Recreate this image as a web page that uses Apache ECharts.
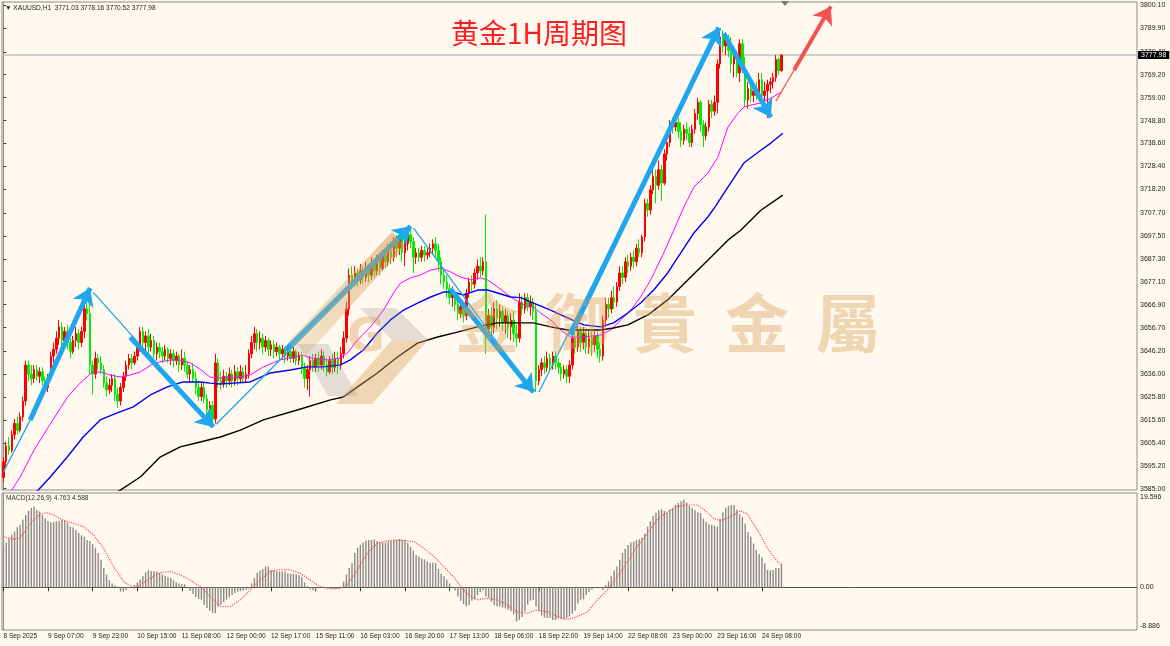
<!DOCTYPE html>
<html>
<head>
<meta charset="utf-8">
<script src="https://cdn.jsdelivr.net/npm/echarts@6/dist/echarts.min.js"></script>
<style>
  html, body { margin: 0; padding: 0; background: #fff8ee; }
  #chart { width: 1170px; height: 646px; }
</style>
</head>
<body>
<div id="chart"></div>
<script>
// ---- data ----
const timeLabels = ['8 Sep 2025', '9 Sep 07:00', '9 Sep 23:00', '10 Sep 15:00', '11 Sep 08:00',
  '12 Sep 00:00', '12 Sep 17:00', '15 Sep 11:00', '16 Sep 03:00', '16 Sep 20:00', '17 Sep 13:00',
  '18 Sep 06:00', '18 Sep 22:00', '19 Sep 14:00', '22 Sep 08:00', '23 Sep 00:00', '23 Sep 16:00',
  '24 Sep 08:00'];

const priceTicks = [3800.10, 3789.90, 3779.40, 3769.20, 3759.00, 3748.80, 3738.60, 3728.40, 3718.20,
  3707.70, 3697.50, 3687.30, 3677.10, 3666.90, 3656.70, 3646.20, 3636.00, 3625.80, 3615.60,
  3605.40, 3595.20, 3585.00];

const macdTicks = [19.596, 0, -8.886];
const macdTickText = ['19.596', '0.00', '-8.886'];

const lastBar = { open: 3771.03, high: 3778.16, low: 3770.52, close: 3777.98 };

// [open, close, low, high] per hourly bar
const candles = [
  [3590,3597,3588,3599],[3597,3604,3595,3606],[3604,3602,3600,3608],[3602,3609,3601,3611],
  [3609,3614,3607,3616],[3614,3611,3609,3617],[3611,3617,3610,3619],[3617,3624,3615,3626],
  [3624,3640,3622,3642],[3640,3636,3633,3642],[3636,3634,3631,3640],[3634,3638,3632,3640],
  [3638,3635,3633,3640],[3635,3637,3632,3639],[3637,3633,3631,3639],[3633,3630,3628,3635],
  [3630,3634,3628,3636],[3634,3644,3633,3646],[3644,3647,3641,3650],[3647,3652,3645,3655],
  [3652,3657,3649,3660],[3657,3651,3648,3659],[3651,3655,3647,3657],[3655,3650,3647,3658],
  [3650,3646,3643,3652],[3646,3651,3645,3653],[3651,3654,3648,3657],[3654,3650,3647,3656],
  [3650,3655,3648,3657],[3655,3665,3652,3667],[3665,3663,3660,3668],[3663,3640,3636,3674],
  [3640,3636,3627,3642],[3636,3643,3634,3646],[3643,3641,3638,3645],[3641,3638,3636,3644],
  [3638,3632,3630,3640],[3632,3629,3626,3635],[3629,3631,3627,3634],[3631,3634,3628,3636],
  [3634,3627,3624,3636],[3627,3624,3621,3630],[3624,3630,3622,3632],[3630,3635,3628,3637],
  [3635,3640,3633,3642],[3640,3643,3638,3645],[3643,3641,3638,3645],[3641,3644,3640,3646],
  [3644,3648,3642,3650],[3648,3655,3646,3657],[3655,3650,3647,3657],[3650,3653,3645,3655],
  [3653,3648,3644,3656],[3648,3651,3646,3654],[3651,3645,3643,3653],[3645,3648,3642,3650],
  [3648,3646,3643,3650],[3646,3644,3641,3648],[3644,3647,3642,3649],[3647,3643,3641,3648],
  [3643,3645,3640,3647],[3645,3642,3639,3647],[3642,3644,3640,3646],[3644,3640,3637,3645],
  [3640,3643,3638,3647],[3643,3640,3637,3646],[3640,3636,3634,3642],[3636,3638,3632,3640],
  [3638,3634,3632,3641],[3634,3630,3627,3637],[3630,3626,3624,3633],[3626,3630,3624,3632],
  [3630,3625,3623,3632],[3625,3620,3617,3627],[3620,3622,3616,3624],[3622,3616,3614,3624],
  [3616,3641,3614,3645],[3641,3633,3630,3643],[3633,3632,3629,3637],[3632,3635,3630,3638],
  [3635,3633,3630,3637],[3633,3636,3631,3639],[3636,3633,3630,3638],[3633,3637,3631,3640],
  [3637,3634,3631,3639],[3634,3637,3632,3640],[3637,3634,3632,3639],[3634,3636,3632,3640],
  [3636,3645,3634,3647],[3645,3650,3643,3653],[3650,3654,3647,3657],[3654,3650,3646,3656],
  [3650,3652,3647,3655],[3652,3648,3645,3654],[3648,3651,3646,3653],[3651,3647,3644,3652],
  [3647,3649,3644,3651],[3649,3646,3643,3651],[3646,3648,3644,3650],[3648,3645,3642,3649],
  [3645,3647,3643,3649],[3647,3644,3641,3648],[3644,3646,3642,3648],[3646,3643,3641,3648],
  [3643,3646,3641,3648],[3646,3642,3640,3647],[3642,3644,3640,3646],[3644,3639,3636,3646],
  [3639,3634,3630,3641],[3634,3638,3629,3640],[3638,3642,3626,3644],[3642,3639,3637,3645],
  [3639,3643,3637,3645],[3643,3640,3637,3646],[3640,3644,3638,3647],[3644,3640,3637,3646],
  [3640,3637,3635,3643],[3637,3642,3636,3644],[3642,3639,3636,3645],[3639,3643,3637,3646],
  [3643,3640,3636,3646],[3640,3645,3638,3648],[3645,3652,3643,3655],[3652,3665,3650,3668],
  [3665,3680,3662,3683],[3680,3677,3674,3684],[3677,3681,3675,3684],[3681,3678,3675,3683],
  [3678,3682,3676,3685],[3682,3679,3676,3684],[3679,3683,3677,3686],[3683,3680,3677,3685],
  [3680,3685,3678,3688],[3685,3682,3679,3687],[3682,3687,3680,3689],[3687,3683,3680,3689],
  [3683,3689,3682,3691],[3689,3686,3683,3692],[3686,3691,3684,3694],[3691,3688,3685,3695],
  [3688,3695,3686,3697],[3695,3692,3688,3698],[3692,3697,3689,3699],[3697,3690,3686,3699],
  [3690,3694,3684,3697],[3694,3698,3691,3700],[3698,3695,3692,3702],[3695,3688,3681,3697],
  [3688,3690,3685,3692],[3690,3688,3686,3692],[3688,3691,3686,3693],[3691,3689,3686,3693],
  [3689,3690,3687,3692],[3690,3692,3688,3694],[3692,3694,3689,3696],[3694,3691,3688,3697],
  [3691,3686,3682,3694],[3686,3680,3676,3688],[3680,3677,3674,3683],[3677,3674,3670,3680],
  [3674,3670,3667,3676],[3670,3672,3666,3675],[3672,3667,3664,3673],[3667,3663,3660,3670],
  [3663,3666,3661,3669],[3666,3662,3659,3668],[3662,3672,3660,3674],[3672,3677,3670,3679],
  [3677,3676,3673,3680],[3676,3681,3674,3683],[3681,3684,3678,3687],[3684,3682,3679,3688],
  [3682,3686,3680,3688],[3686,3656,3645,3707],[3656,3662,3652,3665],[3662,3657,3653,3666],
  [3657,3665,3654,3668],[3665,3661,3656,3669],[3661,3664,3657,3667],[3664,3659,3655,3666],
  [3659,3662,3654,3665],[3662,3657,3652,3664],[3657,3660,3651,3663],[3660,3654,3650,3664],
  [3654,3652,3648,3658],[3652,3668,3650,3672],[3668,3665,3662,3671],[3665,3670,3663,3672],
  [3670,3666,3664,3672],[3666,3668,3662,3671],[3668,3664,3660,3670],[3664,3633,3628,3667],
  [3633,3638,3631,3640],[3638,3641,3635,3643],[3641,3639,3636,3644],[3639,3643,3637,3646],
  [3643,3640,3637,3645],[3640,3644,3638,3646],[3644,3641,3638,3646],[3641,3639,3636,3643],
  [3639,3636,3633,3641],[3636,3638,3634,3640],[3638,3635,3632,3640],[3635,3640,3632,3642],
  [3640,3652,3638,3655],[3652,3648,3645,3656],[3648,3655,3646,3658],[3655,3650,3646,3657],
  [3650,3654,3647,3657],[3654,3648,3645,3656],[3648,3652,3645,3655],[3652,3649,3644,3655],
  [3649,3653,3646,3656],[3653,3647,3643,3655],[3647,3644,3641,3650],[3644,3660,3642,3662],
  [3660,3667,3657,3670],[3667,3665,3661,3670],[3665,3670,3663,3673],[3670,3668,3665,3675],
  [3668,3675,3666,3677],[3675,3681,3673,3684],[3681,3679,3676,3684],[3679,3686,3677,3688],
  [3686,3684,3681,3689],[3684,3688,3682,3690],[3688,3686,3683,3691],[3686,3692,3684,3694],
  [3692,3690,3688,3696],[3690,3697,3688,3698],[3697,3712,3695,3714],[3712,3709,3706,3714],
  [3709,3718,3707,3720],[3718,3724,3716,3727],[3724,3720,3712,3727],[3720,3727,3718,3731],
  [3727,3721,3713,3729],[3721,3734,3720,3736],[3734,3739,3731,3741],[3739,3747,3737,3749],
  [3747,3746,3743,3750],[3746,3748,3744,3750],[3748,3744,3741,3750],[3744,3740,3737,3748],
  [3740,3745,3738,3747],[3745,3743,3740,3748],[3743,3739,3737,3746],[3739,3745,3737,3747],
  [3745,3752,3743,3754],[3752,3757,3749,3759],[3757,3747,3744,3758],[3747,3742,3737,3749],
  [3742,3746,3740,3748],[3746,3756,3744,3758],[3756,3753,3750,3758],[3753,3757,3751,3760],
  [3757,3774,3752,3776],[3774,3786,3772,3790],[3786,3782,3779,3789],[3782,3785,3778,3788],
  [3785,3780,3777,3787],[3780,3774,3770,3786],[3774,3778,3768,3782],[3778,3770,3768,3780],
  [3770,3783,3766,3785],[3783,3772,3770,3785],[3772,3758,3755,3777],[3758,3763,3754,3766],
  [3763,3760,3757,3768],[3760,3762,3757,3765],[3762,3760,3758,3766],[3760,3767,3758,3770],
  [3767,3760,3757,3770],[3760,3762,3757,3766],[3762,3765,3750,3767],[3765,3766,3761,3768],
  [3766,3768,3763,3770],[3768,3776,3766,3778],[3776,3771,3769,3777],[3771.03,3777.98,3770.52,3778.16]
];

// moving averages, read as [bar index, price]
const maFast = [[0,3578],[3,3584.4],[6,3590.2],[11,3602.2],[17,3614.2],[23,3625.8],[27.5,3632],
  [30,3634.7],[32,3636.9],[35,3636.9],[38,3635.6],[42,3634.7],[45.5,3635.6],[49,3636.9],[53,3640.1],
  [56,3641.4],[60,3642.3],[63,3642.3],[67,3641],[71,3637.8],[74,3634.7],[78,3634.3],[82.5,3634.3],
  [88.5,3635.6],[93.2,3639.2],[99.3,3642.3],[104,3643.6],[107.2,3644.5],[110.1,3643.2],[116.2,3642.3],
  [120.9,3643.2],[123.4,3645.4],[127,3651.2],[131.6,3657],[136.3,3664.5],[139.9,3672.1],[142.4,3676.5],
  [146,3678.8],[149.6,3680.1],[153.2,3682.3],[156.7,3683.2],[160.3,3681.5],[163.9,3679.2],[167.5,3677.9],
  [171.1,3678.8],[173.6,3677.9],[177.2,3674.8],[181.9,3670.3],[185.5,3667.6],[188,3665.9],[190.1,3665.9],
  [192.6,3663.2],[196.2,3660.1],[199.8,3655.6],[203.4,3652.5],[208.1,3652.5],[214.2,3653.4],[217.8,3655.6],
  [221.4,3660.1],[225,3664.5],[228.5,3670.3],[232.1,3677.9],[236.8,3689.9],[240.4,3700],[244,3710.3],
  [247.6,3719.2],[252.6,3725.4],[256.2,3732.5],[259.8,3745.9],[263.4,3752.1],[265.5,3754.8],[268,3755.7],
  [271.6,3756.6],[275.2,3758.8],[279,3761.5]];

const maMid = [[9,3580],[12.5,3584.4],[16.8,3590.2],[22.9,3599.1],[28.6,3608],[34.7,3615.6],[40.8,3618.7],
  [46.6,3621.4],[52.7,3626.7],[58.8,3630.3],[64.5,3632.5],[70.6,3632.5],[74.2,3632],[77.8,3631.6],
  [82.5,3632],[88.5,3632.5],[95.7,3636.5],[102.9,3637.8],[109,3639.2],[114.8,3639.2],[120.9,3640.1],
  [124.4,3642.3],[129.1,3646.7],[134.1,3654.3],[138.8,3660.1],[143.5,3664.5],[148.5,3667.6],[153.2,3670.3],
  [157.8,3672.5],[161.4,3672.5],[165,3671.2],[170,3673.4],[173.6,3673.4],[177.2,3672.1],[181.9,3670.3],
  [185.5,3670],[190.1,3667.6],[196.2,3664.5],[202.3,3661],[208.1,3657.9],[214.2,3657],[218.8,3658.8],
  [223.9,3663.2],[228.5,3667.6],[233.2,3673.4],[238.2,3681],[242.9,3689.9],[247.6,3698.8],[252.6,3705.9],
  [255.5,3711],[259.8,3719.2],[265.5,3729.9],[271.6,3735.6],[275.2,3738.8],[279.5,3743.2]];

const maSlow = [[36,3580],[41.9,3584.4],[49.1,3590.2],[56.2,3599.1],[63.4,3603.6],[70.6,3605.8],
  [77.8,3608],[85,3611.1],[93.2,3615.6],[105.4,3620],[117.3,3624.5],[121.9,3625.8],[127,3630.3],
  [134.1,3636.5],[141.3,3643.6],[148.5,3649.8],[155.7,3652.5],[162.8,3654.7],[170,3657],[177.2,3658.8],
  [190.1,3658.8],[196.2,3657],[202.3,3655.6],[214.2,3655.6],[218.8,3656.5],[223.9,3657.9],[231.1,3662.3],
  [238.2,3669],[245.4,3677.9],[252.6,3686.7],[259.8,3695.6],[264.4,3700],[271.6,3708.9],[279.5,3715.6]];

// MACD(12,26,9) histogram per bar
const macdHist = [
  8.5,9.3,10.1,10.9,11.6,12.5, 13.0,14.1,15.0,15.9,16.5,16.8, 16.1,15.8,15.0,14.3,13.8,13.5,
  13.5,13.7,13.8,14.0,13.9,13.4, 12.6,12.4,11.9,11.3,10.8,10.5, 9.8,9.6,9.0,8.2,7.1,5.7,
  4.0,2.6,1.5,0.8,0.4,0.1, -0.9,-0.9,-0.6,-0.1,0.2,0.5, 1.0,1.6,2.3,3.1,3.6,3.4,
  3.4,3.3,3.0,2.7,2.4,2.1, 1.9,1.5,1.0,0.8,0.7,0.6, 0,-0.8,-1.4,-2.0,-2.4,-2.6,
  -3.7,-4.3,-4.9,-5.3,-5.4,-4.0, -3.7,-3.1,-2.6,-2.1,-1.6,-1.2, -0.9,-0.8,-0.7,-0.5,-0.3,0.8,
  1.9,3.0,3.5,3.8,4.3,4.3, 3.6,3.4,3.3,3.3,3.3,3.3, 2.9,2.8,2.8,2.7,2.5,2.1,
  1.0,0.2,-0.4,-0.6,-0.5,0, 0,0,-0.2,-0.3,-0.3,-0.3, -0.3,0.1,1.2,2.6,4.0,5.0,
  7.1,8.2,8.8,9.3,9.7,9.8, 9.8,10.0,9.6,9.4,9.3,9.3, 9.5,9.6,9.8,9.8,10.0,
  9.8,9.8,9.2,8.4,7.6,6.7, 6.4,6.0,5.8,5.4,5.1,5.1, 5.0,3.8,2.8,2.3,1.6,0.8,
  0.1,-0.7,-1.9,-2.8,-3.5,-4.0, -3.7,-2.8,-2.5,-1.7,-1.0,-0.6, -1.9,-2.2,-3.0,-3.7,-4.0,-4.0,
  -4.2,-4.4,-4.6,-5.0,-5.6,-7.1, -6.8,-6.2,-5.0,-3.6,-2.8,-2.6, -4.0,-5.0,-5.9,-6.3,-6.4,-6.4,
  -6.8,-6.8,-6.5,-6.6,-6.7,-6.4, -6.1,-5.5,-4.9,-3.4,-2.6,-2.5, -1.6,-1.0,-0.5,-0.2,0,-0.2,
  -0.6,0.4,1.2,2.3,3.5,4.3, 5.7,7.1,8.0,8.8,9.3,9.5, 9.8,10.0,10.3,11.2,12.6,13.7,
  14.8,15.5,16.0,16.2,15.9,15.5, 16.1,16.4,17.1,17.5,17.9,18.2, 17.6,16.9,16.4,16.0,15.6,15.4,
  14.3,13.6,13.1,13.0,12.8,12.6, 14.3,15.6,16.5,16.9,17.1,17.1, 16.1,15.2,14.6,13.2,11.5,10.5,
  9.1,7.8,6.9,6.2,5.0,3.6, 3.5,3.6,4.0,4.0,4.763
];

// MACD signal line, [bar index, value]
const macdSignal = [[0,10.5],[3.6,10],[6,10.2],[8.4,12.3],[10.8,14],[13.2,15.2],[15.6,15.5],[18,15],
  [21.5,13.9],[25.1,13.3],[28.7,12.6],[32.3,10.9],[35.9,8.1],[39.5,4.3],[43.1,1.2],[46.7,-0.2],[49.1,0.5],
  [52.7,1.9],[56.2,3],[59.8,3.3],[63.4,2.6],[67,1.5],[70.6,0.1],[74.2,-1.9],[77.8,-4],[81.4,-4],[85,-2.6],
  [88.5,-0.6],[92.1,1.5],[95.7,3.3],[99.3,3.7],[102.9,3.6],[106.4,2.9],[110,1.5],[113.6,0.1],[117.3,-0.3],
  [120.9,-0.2],[123.3,0.5],[126.9,3.6],[130.5,7.1],[134.1,9.1],[137.7,9.7],[142.4,9.8],[147.2,9.5],
  [150.8,8.1],[154.4,6.4],[157.9,4.3],[161.5,2.1],[165.1,-0.6],[167.5,-1.9],[169.9,-2.6],[173.5,-2.3],
  [177.1,-2.6],[180.7,-3.7],[184.3,-5.1],[187.9,-5.4],[191.4,-4.7],[195,-5.1],[198.6,-6.1],[202.2,-6.7],
  [205.8,-6.1],[209.4,-5.1],[213,-2.6],[216.6,-0.6],[220.2,2.2],[223.7,5.3],[227.3,8.5],[230.9,11.2],
  [234.5,14],[238.1,15.7],[241.7,16.8],[245.3,17.1],[248.9,17.1],[251.3,16.1],[254.8,14.3],[257.2,13.8],
  [260.8,14.7],[264.4,15.9],[266.8,15.2],[270.4,11.9],[274,8.1],[277.6,5.3],[279.4,4.588]];

// drawn trend arrows, [bar index, price] end points
const blueThin = [
  [[0, 3592.4], [9.6, 3615.5]],
  [[32.2, 3672.5], [75.3, 3612.5]],
  [[76.3, 3613.7], [146.0, 3700.9]],
  [[147.1, 3700.9], [190.1, 3628.0]],
  [[192.0, 3627.9], [257.3, 3789.9]]
];
const blueThick = [
  [[9.6, 3615.5], [31.1, 3674.3]],
  [[45.5, 3652.4], [75.3, 3612.5]],
  [[101.1, 3646.7], [146.0, 3701.8]],
  [[160.3, 3673.8], [190.1, 3628.0]],
  [[203.4, 3653.3], [256.5, 3790.2]],
  [[258.3, 3787.6], [275.2, 3750.3]]
];
const redThin = [[[277.0, 3757.4], [283.5, 3771.2]]];
const redThick = [[[283.5, 3771.2], [296.7, 3799.6]]];

// ---- layout ----
const SLOTS = 407;
const cats = Array.from({ length: SLOTS }, (_, i) => String(i));
const LABEL_STEP = 16;
const showTime = (i) => i % LABEL_STEP === 0 && i / LABEL_STEP < timeLabels.length;

const macdMin = -8.886, macdMax = 19.596;
const macdTickPos = macdTicks.map(v => v === macdMax ? v - 0.85 : (v === macdMin ? v + 0.85 : v));

const FONT = '"Liberation Sans", Arial, sans-serif';
const axisFont = { fontSize: 7, color: '#222', fontFamily: FONT };
const frame = '#8c8c8c';

const chart = echarts.init(document.getElementById('chart'));

function linesSeries(segs, color, width, arrow) {
  return {
    type: 'lines',
    coordinateSystem: 'cartesian2d',
    xAxisIndex: 1, yAxisIndex: 0,
    polyline: false,
    silent: true,
    z: 5,
    symbol: arrow ? ['none', 'arrow'] : ['none', 'none'],
    symbolSize: arrow ? [2, 17] : 2,
    lineStyle: { color: color, width: width, opacity: 1, curveness: 0 },
    data: segs.map(s => ({ coords: s }))
  };
}

const wmFill = 'rgba(214,160,88,0.40)';
const wmGrey = 'rgba(140,140,140,0.24)';
const wmChars = ['金', '御', '貴', '金', '屬'];
const wmX = [487, 577, 665, 757, 848];

chart.setOption({
  backgroundColor: '#fff8ee',
  animation: false,
  grid: [
    { left: 2, right: 33, top: 2, height: 488, show: true, borderColor: frame, borderWidth: 1 },
    { left: 2, right: 33, top: 493, height: 137, show: true, borderColor: frame, borderWidth: 1 }
  ],
  xAxis: [
    { type: 'category', gridIndex: 0, data: cats, boundaryGap: true, show: false },
    { type: 'value', gridIndex: 0, min: -0.5, max: SLOTS - 0.5, show: false },
    {
      type: 'category', gridIndex: 1, data: cats, boundaryGap: true,
      axisLine: { show: true, lineStyle: { color: '#555' } },
      axisTick: { show: true, interval: (i) => showTime(i), alignWithLabel: true, length: 4, lineStyle: { color: '#333' } },
      axisLabel: Object.assign({
        interval: (i) => showTime(i),
        formatter: (v, i) => timeLabels[Math.round(i / LABEL_STEP)] || '',
        align: 'left', margin: 3, hideOverlap: false
      }, axisFont, { fontSize: 6.6 }),
      splitLine: { show: false }
    },
    { type: 'value', gridIndex: 1, min: -0.5, max: SLOTS - 0.5, show: false }
  ],
  yAxis: [
    {
      type: 'value', gridIndex: 0, position: 'right', min: 3584.42, max: 3801.57,
      splitLine: { show: false },
      axisLine: { show: true, lineStyle: { color: frame } },
      axisTick: { show: true, customValues: priceTicks, length: 3, lineStyle: { color: '#444' } },
      axisLabel: Object.assign({ customValues: priceTicks, formatter: (v) => v.toFixed(2), margin: 3 }, axisFont)
    },
    {
      type: 'value', gridIndex: 1, position: 'right', min: macdMin, max: macdMax,
      splitLine: { show: false },
      axisLine: { show: true, lineStyle: { color: frame } },
      axisTick: { show: true, customValues: [0], length: 3, lineStyle: { color: '#444' } },
      axisLabel: Object.assign({
        customValues: macdTickPos,
        formatter: (v) => {
          const k = macdTickPos.findIndex(p => Math.abs(p - v) < 1e-6);
          return k >= 0 ? macdTickText[k] : '';
        },
        margin: 3
      }, axisFont)
    }
  ],
  series: [
    {
      type: 'candlestick', xAxisIndex: 0, yAxisIndex: 0,
      data: candles,
      barWidth: 2,
      z: 3,
      itemStyle: { color: '#ff0000', color0: '#00ee00', borderColor: '#ff0000', borderColor0: '#00ee00', borderWidth: 1 },
      markLine: {
        silent: true, symbol: ['none', 'none'], z: 1,
        lineStyle: { color: '#c2c2c2', width: 1.5, type: 'solid' },
        label: {
          show: true, position: 'end', distance: 1,
          formatter: lastBar.close.toFixed(2),
          backgroundColor: '#000', color: '#fff', fontSize: 7,
          fontFamily: FONT, padding: [1, 3, 0, 3]
        },
        data: [{ yAxis: lastBar.close }]
      }
    },
    { type: 'line', xAxisIndex: 1, yAxisIndex: 0, data: maFast, showSymbol: false, clip: true, z: 4,
      lineStyle: { color: '#ff00ff', width: 1 } },
    { type: 'line', xAxisIndex: 1, yAxisIndex: 0, data: maMid, showSymbol: false, clip: true, z: 4,
      lineStyle: { color: '#0000f0', width: 1.4 } },
    { type: 'line', xAxisIndex: 1, yAxisIndex: 0, data: maSlow, showSymbol: false, clip: true, z: 4,
      lineStyle: { color: '#000000', width: 1.4 } },
    { type: 'bar', xAxisIndex: 2, yAxisIndex: 1, data: macdHist, barWidth: 1.4,
      itemStyle: { color: '#8a8a8a' } },
    { type: 'line', xAxisIndex: 3, yAxisIndex: 1, data: macdSignal, showSymbol: false, smooth: false,
      lineStyle: { color: '#ff4a4a', width: 1.2, type: 'dotted' } },
    linesSeries(blueThin, '#1ea6ee', 1.3, false),
    linesSeries(blueThick, '#1ea6ee', 5, true),
    linesSeries(redThin, '#f25252', 1.3, false),
    linesSeries(redThick, '#f25252', 4, true)
  ],
  graphic: [
    // chart header and indicator caption
    { type: 'text', left: 5, top: 5, z: 20, silent: true,
      style: { text: '▼ XAUUSD,H1  ' + [lastBar.open, lastBar.high, lastBar.low, lastBar.close].map(v => v.toFixed(2)).join(' '),
        fill: '#222', font: '6.6px ' + FONT } },
    { type: 'text', left: 6, top: 495, z: 20, silent: true,
      style: { text: 'MACD(12,26,9) ' + macdHist[macdHist.length - 1].toFixed(3) + ' ' + macdSignal[macdSignal.length - 1][1].toFixed(3),
        fill: '#333', font: '6.6px ' + FONT } },
    { type: 'polygon', z: 20, silent: true, shape: { points: [[781, 1], [789, 1], [785, 6]] }, style: { fill: '#7a7a7a' } },
    // title
    { type: 'text', z: 30, silent: true, x: 539, y: 33,
      style: { text: '黄金1H周期图', fill: '#ff1e1e', font: '28px "Noto Sans CJK SC"', align: 'center', verticalAlign: 'middle' } },
    // watermark logo
    { type: 'polygon', z: 40, silent: true, shape: { points: [[288, 342], [392, 232], [405, 246], [304, 358]] },
      style: { fill: new echarts.graphic.LinearGradient(0, 1, 1, 0, [
        { offset: 0, color: 'rgba(226,186,126,0.30)' }, { offset: 1, color: 'rgba(205,150,75,0.55)' }]) } },
    { type: 'polygon', z: 40, silent: true, shape: { points: [[360, 308], [396, 308], [428, 340], [392, 340]] }, style: { fill: wmGrey } },
    { type: 'polygon', z: 40, silent: true, shape: { points: [[392, 340], [428, 340], [372, 404], [336, 404]] }, style: { fill: wmFill } },
    { type: 'polygon', z: 40, silent: true, shape: { points: [[298, 344], [328, 344], [358, 396], [328, 396]] }, style: { fill: wmGrey } },
    { type: 'text', z: 40, silent: true, x: 366, y: 339,
      style: { text: 'G', fill: wmFill, font: 'bold 46px "DejaVu Sans"', align: 'center', verticalAlign: 'middle' } }
  ].concat(wmChars.map((ch, k) => ({
    type: 'text', z: 40, silent: true, x: wmX[k], y: 323,
    style: { text: ch, fill: wmFill, font: 'bold 64px "Noto Sans CJK TC"', align: 'center', verticalAlign: 'middle' }
  })))
});
</script>
</body>
</html>
